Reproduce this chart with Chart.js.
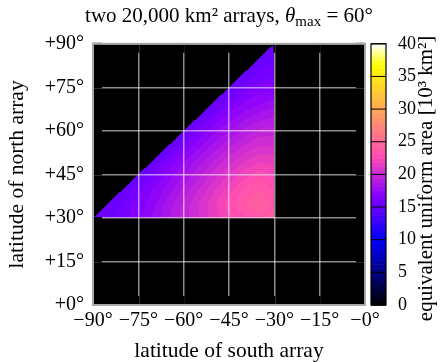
<!DOCTYPE html>
<html><head><meta charset="utf-8">
<script src="https://cdn.jsdelivr.net/npm/chart.js@4.4.1/dist/chart.umd.min.js"></script>
<style>html,body{margin:0;padding:0;background:#fff}canvas{display:block}</style>
</head><body>
<canvas id="c" width="441" height="362"></canvas>
<script>
// ---- data ----
const southLat = [-90,-85,-80,-75,-70,-65,-60,-55,-50,-45,-40,-35,-30];   // x nodes
const northLat = [30,35,40,45,50,55,60,65,70,75,80,85,90];                 // y nodes
// equivalent uniform area [10^3 km^2]; rows follow northLat, columns follow southLat; null = not computed
const areaRows = [
 [15.0,15.5,16.1,16.7,17.7,18.7,19.7,20.6,21.5,22.4,23.0,23.6,24.2],
 [null,15.0,15.7,16.5,17.3,18.4,19.5,20.6,21.7,22.8,23.7,24.3,23.6],
 [null,null,15.0,15.9,16.9,17.8,18.9,20.0,21.1,22.2,23.2,23.7,23.0],
 [null,null,null,15.0,16.1,17.1,18.1,19.2,20.3,21.3,22.2,22.8,22.4],
 [null,null,null,null,15.0,16.2,17.3,18.3,19.3,20.3,21.1,21.7,21.5],
 [null,null,null,null,null,15.0,16.2,17.3,18.3,19.2,20.0,20.6,20.6],
 [null,null,null,null,null,null,15.0,16.2,17.3,18.1,18.9,19.5,19.7],
 [null,null,null,null,null,null,null,15.0,16.2,17.1,17.8,18.4,18.7],
 [null,null,null,null,null,null,null,null,15.0,16.1,16.9,17.3,17.7],
 [null,null,null,null,null,null,null,null,null,15.0,15.9,16.5,16.7],
 [null,null,null,null,null,null,null,null,null,null,15.0,15.7,16.1],
 [null,null,null,null,null,null,null,null,null,null,null,15.0,15.5],
 [null,null,null,null,null,null,null,null,null,null,null,null,15.0]
];
const xTicks = [-90,-75,-60,-45,-30,-15,0];
const yTicks = [0,15,30,45,60,75,90];
const cbTicks = [0,5,10,15,20,25,30,35,40];
const titleParts = ['two 20,000 km² arrays, ', 'θ', 'max', ' = 60°'];
const xTitle = 'latitude of south array';
const yTitle = 'latitude of north array';
const cbTitle = 'equivalent uniform area [10³ km²]';

// ---- styling ----
const FONT = '"Liberation Serif", "Times New Roman", serif';
const CB_MIN = 0, CB_MAX = 40, NLEV = 64;

function clamp01(v){ return v < 0 ? 0 : (v > 1 ? 1 : v); }
function palette(v){ // gnuplot2-like
  let q = Math.floor((v - CB_MIN) / (CB_MAX - CB_MIN) * NLEV);
  q = Math.max(0, Math.min(NLEV - 1, q));
  const x = (q + 0.5) / NLEV;
  const r = clamp01(x / 0.32 - 0.78125);
  const g = clamp01(2 * x - 0.84);
  let b;
  if (x < 0.25) b = 4 * x; else if (x < 0.42) b = 1; else if (x < 0.92) b = -2 * x + 1.84; else b = x / 0.08 - 11.5;
  b = clamp01(b);
  return [Math.round(r * 255), Math.round(g * 255), Math.round(b * 255)];
}

function nodeVal(i, j){ const row = areaRows[j]; return row ? row[i] : null; }

function fieldAt(xv, yv){
  const dx = southLat[1] - southLat[0], dy = northLat[1] - northLat[0];
  const fi = (xv - southLat[0]) / dx, fj = (yv - northLat[0]) / dy;
  const ni = southLat.length - 1, nj = northLat.length - 1;
  if (fi < 0 || fj < 0 || fi > ni || fj > nj) return null;
  let i = Math.min(ni - 1, Math.floor(fi)), j = Math.min(nj - 1, Math.floor(fj));
  const u = fi - i, w = fj - j;
  const a = nodeVal(i, j), b = nodeVal(i + 1, j), c = nodeVal(i + 1, j + 1);
  if (w <= u) {
    if (a == null || b == null || c == null) return null;
    return a + u * (b - a) + w * (c - b);
  } else {
    const d = nodeVal(i, j + 1);
    if (a == null || d == null || c == null) return null;
    return a + w * (d - a) + u * (c - d);
  }
}

const heatPlugin = {
  id: 'heat',
  beforeDraw(chart){
    const ctx = chart.ctx, ca = chart.chartArea, xs = chart.scales.x, ys = chart.scales.y;
    ctx.save();
    ctx.fillStyle = '#000';
    ctx.fillRect(ca.left, ca.top, ca.right - ca.left, ca.bottom - ca.top);
    const x0 = Math.floor(ca.left), y0 = Math.floor(ca.top);
    const W = Math.ceil(ca.right) - x0, H = Math.ceil(ca.bottom) - y0;
    const off = document.createElement('canvas'); off.width = W; off.height = H;
    const octx = off.getContext('2d');
    const img = octx.createImageData(W, H);
    for (let py = 0; py < H; py++) {
      const yv = ys.getValueForPixel(y0 + py + 0.5);
      for (let px = 0; px < W; px++) {
        const xv = xs.getValueForPixel(x0 + px + 0.5);
        const v = fieldAt(xv, yv);
        if (v == null) continue;
        const col = palette(v);
        const k = (py * W + px) * 4;
        img.data[k] = col[0]; img.data[k+1] = col[1]; img.data[k+2] = col[2]; img.data[k+3] = 255;
      }
    }
    octx.putImageData(img, 0, 0);
    ctx.drawImage(off, x0, y0);
    ctx.restore();
  },
  afterDraw(chart){
    const ctx = chart.ctx, ca = chart.chartArea, xs = chart.scales.x, ys = chart.scales.y, cb = chart.scales.cb;
    ctx.save();
    // inner black tick marks
    ctx.strokeStyle = '#000'; ctx.lineWidth = 2;
    const TL = 9;
    xTicks.forEach(t => {
      const p = xs.getPixelForValue(t);
      ctx.beginPath(); ctx.moveTo(p, ca.top); ctx.lineTo(p, ca.top + TL); ctx.stroke();
      ctx.beginPath(); ctx.moveTo(p, ca.bottom); ctx.lineTo(p, ca.bottom - TL); ctx.stroke();
    });
    yTicks.forEach(t => {
      const p = ys.getPixelForValue(t);
      ctx.beginPath(); ctx.moveTo(ca.left, p); ctx.lineTo(ca.left + TL, p); ctx.stroke();
      ctx.beginPath(); ctx.moveTo(ca.right, p); ctx.lineTo(ca.right - TL, p); ctx.stroke();
    });
    // frame
    ctx.strokeStyle = '#a8a8a8'; ctx.lineWidth = 2;
    ctx.strokeRect(ca.left, ca.top, ca.right - ca.left, ca.bottom - ca.top);

    // colour bar
    const cbL = ca.right + 6, cbW = 15;
    for (let q = 0; q < NLEV; q++) {
      const v0 = CB_MIN + (CB_MAX - CB_MIN) * q / NLEV, v1 = CB_MIN + (CB_MAX - CB_MIN) * (q + 1) / NLEV;
      const p0 = cb.getPixelForValue(v0), p1 = cb.getPixelForValue(v1);
      const c = palette((v0 + v1) / 2);
      ctx.fillStyle = 'rgb(' + c.join(',') + ')';
      ctx.fillRect(cbL, p1, cbW, p0 - p1 + 0.6);
    }
    ctx.strokeStyle = '#000'; ctx.lineWidth = 1;
    cbTicks.forEach(t => {
      const p = cb.getPixelForValue(t);
      ctx.beginPath(); ctx.moveTo(cbL, p); ctx.lineTo(cbL + cbW, p); ctx.stroke();
    });
    ctx.lineWidth = 1.2;
    const pt = cb.getPixelForValue(CB_MAX), pb = cb.getPixelForValue(CB_MIN);
    ctx.strokeRect(cbL, pt, cbW, pb - pt);

    // colour bar title (rotated)
    ctx.fillStyle = '#000';
    ctx.font = '21px ' + FONT;
    ctx.translate(426, (ca.top + ca.bottom) / 2 + 4);
    ctx.rotate(-Math.PI / 2);
    ctx.textAlign = 'center'; ctx.textBaseline = 'middle';
    ctx.fillText(cbTitle, 0, 0);
    ctx.restore();

    // plot title with italic theta and subscript
    ctx.save();
    ctx.fillStyle = '#000'; ctx.textBaseline = 'alphabetic'; ctx.textAlign = 'left';
    const fN = '21px ' + FONT, fI = 'italic 21px ' + FONT, fS = '15px ' + FONT;
    const fonts = [fN, fI, fS, fN], dys = [0, 0, 4, 0];
    let total = 0;
    const widths = titleParts.map((t, k) => { ctx.font = fonts[k]; const w = ctx.measureText(t).width; total += w; return w; });
    let x = (ca.left + ca.right) / 2 - total / 2;
    const base = 22;
    titleParts.forEach((t, k) => { ctx.font = fonts[k]; ctx.fillText(t, x, base + dys[k]); x += widths[k]; });
    ctx.restore();
  }
};

const gridCol = 'rgba(255,255,255,0.55)';
new Chart(document.getElementById('c'), {
  type: 'scatter',
  data: { datasets: [] },
  options: {
    responsive: false, animation: false, devicePixelRatio: 1,
    layout: { padding: { top: 34, left: 0, right: 0, bottom: 0 } },
    plugins: { legend: { display: false }, tooltip: { enabled: false }, title: { display: false } },
    scales: {
      x: {
        type: 'linear', min: -90, max: 0, position: 'bottom',
        afterBuildTicks: s => { s.ticks = xTicks.map(v => ({ value: v })); },
        afterFit: s => { s.height = 57; },
        grid: { color: gridCol, lineWidth: 1.5, drawTicks: false },
        border: { display: false },
        ticks: { color: '#000', padding: 4, font: { family: FONT, size: 20 },
                 callback: v => '\u2212' + Math.abs(v) + '°' },
        title: { display: true, text: xTitle, color: '#000', font: { family: FONT, size: 21.5, lineHeight: 1 }, padding: 0 }
      },
      y: {
        type: 'linear', min: 0, max: 90, position: 'left',
        afterBuildTicks: s => { s.ticks = yTicks.map(v => ({ value: v })); },
        afterFit: s => { s.width = 93; },
        grid: { color: gridCol, lineWidth: 1.5, drawTicks: false },
        border: { display: false },
        ticks: { color: '#000', padding: 9, font: { family: FONT, size: 20 },
                 callback: v => '+' + v + '°' },
        title: { display: true, text: yTitle, color: '#000', font: { family: FONT, size: 21.5, lineHeight: 1 }, padding: { top: 7, bottom: 0 } }
      },
      cb: {
        type: 'linear', min: CB_MIN, max: CB_MAX, position: 'right',
        afterBuildTicks: s => { s.ticks = cbTicks.map(v => ({ value: v })); },
        afterFit: s => { s.width = 76; },
        grid: { display: false, drawTicks: false },
        border: { display: false },
        ticks: { color: '#000', padding: 33, font: { family: FONT, size: 18 } }
      }
    }
  },
  plugins: [heatPlugin]
});
</script>
</body></html>
